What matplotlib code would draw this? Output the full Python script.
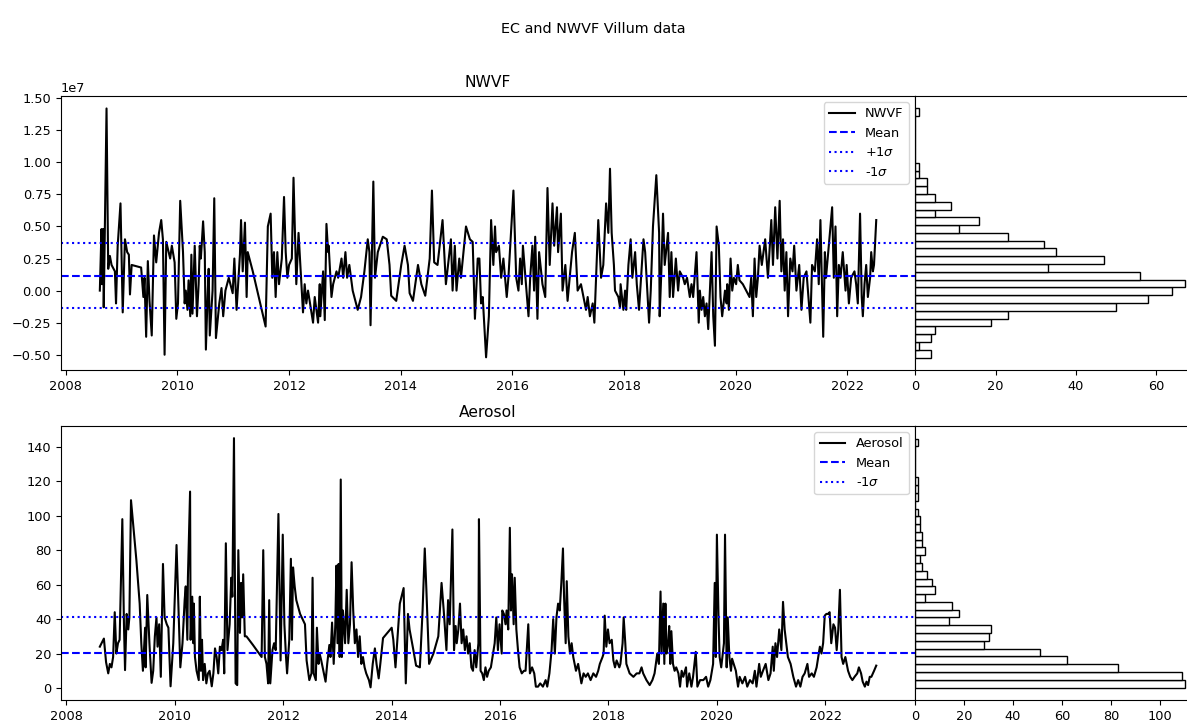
import numpy as np
import matplotlib
matplotlib.use("Agg")
import matplotlib.pyplot as plt
from matplotlib.ticker import MultipleLocator, FormatStrFormatter

plt.rcParams['font.size'] = 9.3

# NWVF time series (decimal year, value in units of 1e7)
nwvf_years = [
    2008.61, 2008.64, 2008.65, 2008.67, 2008.68, 2008.73, 2008.76, 2008.79, 2008.82, 2008.88,
    2008.90, 2008.93, 2008.98, 2009.02, 2009.06, 2009.10, 2009.13, 2009.15, 2009.18, 2009.35,
    2009.39, 2009.41, 2009.44, 2009.47, 2009.50, 2009.54, 2009.58, 2009.62, 2009.67, 2009.71,
    2009.74, 2009.77, 2009.80, 2009.87, 2009.90, 2009.95, 2009.98, 2010.01, 2010.05, 2010.10,
    2010.13, 2010.15, 2010.18, 2010.20, 2010.23, 2010.25, 2010.27, 2010.31, 2010.35, 2010.38,
    2010.40, 2010.42, 2010.46, 2010.49, 2010.51, 2010.54, 2010.56, 2010.58, 2010.63, 2010.66,
    2010.69, 2010.75, 2010.79, 2010.82, 2010.86, 2010.92, 2010.99, 2011.02, 2011.06, 2011.12,
    2011.14, 2011.17, 2011.21, 2011.24, 2011.26, 2011.35, 2011.58, 2011.62, 2011.67, 2011.70,
    2011.73, 2011.76, 2011.79, 2011.82, 2011.87, 2011.91, 2011.94, 2011.97, 2012.00, 2012.05,
    2012.08, 2012.13, 2012.17,
    2012.25, 2012.28, 2012.31, 2012.34, 2012.43, 2012.46, 2012.52, 2012.55, 2012.56, 2012.61,
    2012.64, 2012.67, 2012.70, 2012.71, 2012.76, 2012.79, 2012.85, 2012.88, 2012.94, 2012.97,
    2013.01, 2013.04, 2013.08, 2013.14, 2013.20, 2013.23, 2013.29, 2013.35, 2013.41, 2013.44,
    2013.46, 2013.51, 2013.54, 2013.59, 2013.68, 2013.75, 2013.80, 2013.83, 2013.92, 2014.01,
    2014.07, 2014.13, 2014.16, 2014.22, 2014.31, 2014.37, 2014.44, 2014.52, 2014.56, 2014.60,
    2014.66, 2014.75, 2014.81, 2014.90, 2014.93, 2014.97, 2015.00, 2015.05, 2015.08, 2015.17,
    2015.24, 2015.29, 2015.33, 2015.38, 2015.41, 2015.44, 2015.47, 2015.53, 2015.58, 2015.62,
    2015.66, 2015.69, 2015.71, 2015.76, 2015.80, 2015.84, 2015.90, 2015.93, 2016.02, 2016.07,
    2016.11, 2016.14, 2016.17, 2016.19, 2016.29, 2016.32, 2016.36, 2016.39, 2016.41, 2016.45,
    2016.48, 2016.54, 2016.59, 2016.63, 2016.67, 2016.72, 2016.75, 2016.80, 2016.82, 2016.87,
    2016.90, 2016.95, 2016.99, 2017.07, 2017.12, 2017.17, 2017.23, 2017.32, 2017.35, 2017.39,
    2017.44, 2017.47, 2017.54, 2017.59, 2017.63, 2017.68, 2017.72, 2017.75, 2017.78, 2017.82,
    2017.84, 2017.90, 2017.93, 2017.94, 2017.99, 2018.02, 2018.04, 2018.08, 2018.12, 2018.15,
    2018.20, 2018.23, 2018.27, 2018.35, 2018.38, 2018.45, 2018.48, 2018.52, 2018.58, 2018.63,
    2018.64, 2018.67, 2018.70, 2018.73, 2018.79, 2018.82, 2018.85, 2018.88, 2018.93, 2018.97,
    2019.00, 2019.06, 2019.09, 2019.13, 2019.18, 2019.21, 2019.24, 2019.30, 2019.34, 2019.36,
    2019.39, 2019.42, 2019.45, 2019.48, 2019.51, 2019.57, 2019.60, 2019.63, 2019.66, 2019.70,
    2019.73, 2019.76, 2019.81, 2019.84, 2019.85, 2019.88, 2019.91, 2019.94, 2019.97, 2020.01,
    2020.04, 2020.07, 2020.13, 2020.19, 2020.25, 2020.28, 2020.31, 2020.34, 2020.37, 2020.40,
    2020.43, 2020.47, 2020.53, 2020.58, 2020.64, 2020.67, 2020.71, 2020.75, 2020.79, 2020.82,
    2020.85, 2020.88, 2020.91, 2020.94, 2020.98, 2021.02, 2021.05, 2021.09, 2021.14, 2021.18,
    2021.22, 2021.27, 2021.34, 2021.37, 2021.42, 2021.46, 2021.49, 2021.52, 2021.57, 2021.60,
    2021.62, 2021.65, 2021.68, 2021.73, 2021.76, 2021.79, 2021.82, 2021.85, 2021.88, 2021.92,
    2021.97, 2021.99, 2022.03, 2022.07, 2022.13, 2022.16, 2022.19, 2022.23, 2022.26, 2022.28,
    2022.31, 2022.34, 2022.37, 2022.41, 2022.43, 2022.46, 2022.48, 2022.52,
]
nwvf_vals = [
    0.00, 0.48, 0.05, 0.48, -0.13, 1.42, 0.17, 0.27, 0.20, 0.15,
    -0.10, 0.35, 0.68, -0.17, 0.40, 0.30, 0.28, -0.03, 0.20, 0.18,
    -0.05, 0.10, -0.36, 0.23, -0.08, -0.35, 0.43, 0.22, 0.45, 0.55,
    0.40, -0.50, 0.38, 0.25, 0.35, 0.22, -0.22, -0.10, 0.70, 0.30,
    -0.10, 0.00, -0.15, 0.08, -0.20, 0.28, -0.18, 0.35, -0.20, 0.05,
    0.35, 0.25, 0.54, 0.30, -0.46, -0.05, 0.17, -0.35, 0.00, 0.72,
    -0.37, -0.10, 0.02, -0.20, 0.00, 0.10, -0.02, 0.25, -0.15, 0.28,
    0.55, 0.15, 0.53, -0.05, 0.30, 0.15, -0.28, 0.50, 0.60, 0.10,
    0.30, -0.05, 0.30, 0.05, 0.25, 0.73, 0.30, 0.10, 0.20, 0.25,
    0.88, 0.05, 0.45,
    -0.17, 0.05, -0.10, 0.00, -0.25, -0.05, -0.25, 0.05, -0.20, 0.15,
    -0.23, 0.52, 0.30, 0.35, -0.05, 0.05, 0.15, 0.10, 0.25, 0.10,
    0.30, 0.10, 0.20, 0.00, -0.10, -0.15, -0.05, 0.15, 0.40, 0.30,
    -0.27, 0.85, 0.10, 0.30, 0.42, 0.40, 0.20, -0.04, -0.08, 0.20,
    0.35, 0.20, -0.02, -0.08, 0.20, 0.05, -0.04, 0.25, 0.78, 0.22,
    0.20, 0.55, 0.05, 0.40, 0.00, 0.35, 0.00, 0.25, 0.10, 0.50,
    0.40, 0.38, -0.22, 0.25, 0.25, -0.10, -0.05, -0.52, -0.20, 0.55,
    0.20, 0.50, 0.30, 0.35, 0.10, 0.25, -0.05, 0.10, 0.78, 0.10,
    0.00, 0.25, 0.05, 0.35, -0.20, 0.10, 0.35, 0.00, 0.42, -0.22,
    0.30, 0.05, -0.05, 0.80, 0.20, 0.68, 0.35, 0.65, 0.30, 0.60,
    0.00, 0.20, -0.08, 0.30, 0.45, 0.00, 0.05, -0.15, -0.05, -0.20,
    -0.10, -0.25, 0.55, 0.10, 0.20, 0.68, 0.45, 0.95, 0.45, 0.20,
    0.00, -0.05, -0.13, 0.05, -0.15, 0.00, -0.15, 0.20, 0.40, 0.10,
    0.30, 0.05, -0.15, 0.40, 0.30, -0.25, 0.00, 0.50, 0.90, 0.45,
    -0.20, 0.15, 0.60, 0.20, 0.45, -0.05, 0.30, -0.05, 0.25, 0.00,
    0.15, 0.10, 0.05, 0.10, -0.05, 0.05, -0.05, 0.30, -0.25, 0.00,
    -0.15, -0.05, -0.20, -0.10, -0.30, 0.30, -0.20, -0.43, 0.50, 0.35,
    -0.05, -0.20, 0.00, -0.10, 0.05, -0.15, 0.25, 0.00, 0.10, 0.05,
    0.20, 0.08, 0.05, 0.00, -0.05, 0.10, -0.20, 0.25, -0.05, 0.10,
    0.35, 0.20, 0.40, 0.10, 0.55, 0.20, 0.65, 0.25, 0.70, 0.15,
    0.40, 0.00, 0.30, -0.20, 0.25, 0.15, 0.35, 0.00, 0.20, -0.15,
    0.10, 0.15, -0.25, 0.20, 0.15, 0.40, 0.05, 0.55, -0.36, 0.30,
    0.10, 0.25, 0.40, 0.65, 0.10, 0.50, -0.20, 0.20, 0.10, 0.30,
    0.00, 0.20, -0.10, 0.10, 0.15, 0.05, -0.10, 0.60, -0.05, -0.20,
    0.05, 0.20, -0.05, 0.10, 0.30, 0.15, 0.20, 0.55,
]

# Aerosol time series (decimal year, value)
aerosol_years = [
    2008.615, 2008.69, 2008.73, 2008.77, 2008.80, 2008.83, 2008.86, 2008.89, 2008.92, 2008.95,
    2008.98, 2009.03, 2009.06, 2009.08, 2009.11, 2009.14, 2009.16, 2009.19, 2009.23, 2009.29,
    2009.35, 2009.38, 2009.41, 2009.45, 2009.46, 2009.49, 2009.53, 2009.57, 2009.60, 2009.63,
    2009.66, 2009.68, 2009.71, 2009.74, 2009.78, 2009.81, 2009.85, 2009.88, 2009.92, 2009.97,
    2010.03, 2010.06, 2010.10, 2010.14, 2010.18, 2010.20, 2010.23, 2010.24, 2010.28, 2010.29,
    2010.32, 2010.34, 2010.35, 2010.37, 2010.40, 2010.44, 2010.46, 2010.48, 2010.50, 2010.52,
    2010.55, 2010.58, 2010.61, 2010.64, 2010.68, 2010.71, 2010.74, 2010.77, 2010.80, 2010.83,
    2010.86, 2010.89, 2010.91, 2010.94, 2010.97, 2011.01, 2011.04, 2011.06, 2011.09, 2011.12,
    2011.15, 2011.17, 2011.20, 2011.22, 2011.24, 2011.26, 2011.29, 2011.32, 2011.44, 2011.60,
    2011.63, 2011.66, 2011.69, 2011.72, 2011.74, 2011.76, 2011.80, 2011.83, 2011.86, 2011.91,
    2011.94, 2011.95, 2011.99, 2012.02, 2012.05, 2012.07, 2012.11, 2012.14, 2012.16, 2012.18,
    2012.21, 2012.24,
    2012.31, 2012.40, 2012.43, 2012.48, 2012.52, 2012.54, 2012.56, 2012.60, 2012.62, 2012.65,
    2012.67, 2012.70, 2012.75, 2012.78, 2012.81, 2012.85, 2012.87, 2012.90, 2012.93, 2012.96,
    2012.98, 2013.00, 2013.02, 2013.04, 2013.06, 2013.08, 2013.10, 2013.14, 2013.17, 2013.20,
    2013.23, 2013.26, 2013.29, 2013.32, 2013.35, 2013.38, 2013.41, 2013.44, 2013.47, 2013.50,
    2013.53, 2013.58, 2013.61, 2013.65, 2013.69, 2013.72, 2013.76, 2013.79, 2013.84, 2013.92,
    2014.00, 2014.03, 2014.07, 2014.10, 2014.15, 2014.22, 2014.26, 2014.30, 2014.33, 2014.40,
    2014.45, 2014.52, 2014.57, 2014.61, 2014.64, 2014.69, 2014.77, 2014.86, 2014.92, 2014.96,
    2015.01, 2015.04, 2015.07, 2015.12, 2015.15, 2015.18, 2015.20, 2015.23, 2015.26, 2015.29,
    2015.32, 2015.35, 2015.38, 2015.41, 2015.44, 2015.47, 2015.50, 2015.53, 2015.56, 2015.60,
    2015.61, 2015.64, 2015.67, 2015.70, 2015.73, 2015.76, 2015.79, 2015.83, 2015.86, 2015.90,
    2015.93, 2015.96, 2015.99, 2016.03, 2016.04, 2016.07, 2016.10, 2016.12, 2016.15, 2016.18,
    2016.20, 2016.22, 2016.25, 2016.27, 2016.30, 2016.33, 2016.36, 2016.40, 2016.44, 2016.47,
    2016.52, 2016.55, 2016.59, 2016.63, 2016.66, 2016.70, 2016.74, 2016.79, 2016.84, 2016.87,
    2016.91, 2016.95, 2016.98, 2017.01, 2017.04, 2017.07, 2017.10, 2017.13, 2017.16, 2017.18,
    2017.21, 2017.23, 2017.26, 2017.29, 2017.32, 2017.35, 2017.40, 2017.44, 2017.47, 2017.50,
    2017.54, 2017.58, 2017.62, 2017.67, 2017.72, 2017.77, 2017.81, 2017.84, 2017.89, 2017.91,
    2017.93, 2017.96, 2017.99, 2018.02, 2018.06, 2018.09, 2018.12, 2018.15, 2018.20,
    2018.22, 2018.26, 2018.28, 2018.31, 2018.33, 2018.39, 2018.46, 2018.52, 2018.57, 2018.61,
    2018.64, 2018.70, 2018.76, 2018.81, 2018.85, 2018.90, 2018.93, 2018.96, 2018.98, 2019.01,
    2019.03, 2019.05, 2019.07, 2019.10, 2019.12, 2019.14, 2019.16, 2019.19, 2019.22, 2019.25,
    2019.29, 2019.32, 2019.35, 2019.38, 2019.43, 2019.45, 2019.49, 2019.53, 2019.56, 2019.61,
    2019.64, 2019.69, 2019.75, 2019.80, 2019.84, 2019.88, 2019.93, 2019.96, 2019.98, 2020.00,
    2020.03, 2020.05, 2020.08, 2020.13, 2020.15, 2020.18, 2020.20, 2020.23, 2020.26, 2020.28,
    2020.31, 2020.35, 2020.39, 2020.42, 2020.47, 2020.52, 2020.56, 2020.61, 2020.66, 2020.70,
    2020.73, 2020.78, 2020.81, 2020.85, 2020.90, 2020.95, 2020.99, 2021.03, 2021.05, 2021.08,
    2021.11, 2021.15, 2021.19, 2021.22, 2021.25, 2021.28, 2021.31, 2021.36, 2021.41, 2021.46,
    2021.50, 2021.54, 2021.58, 2021.62, 2021.67, 2021.70, 2021.75, 2021.79, 2021.84, 2021.87,
    2021.90, 2021.93, 2021.96, 2021.99, 2022.02, 2022.05, 2022.08, 2022.11, 2022.15, 2022.18,
    2022.21, 2022.24, 2022.27, 2022.30, 2022.33, 2022.37, 2022.42, 2022.46, 2022.50, 2022.54,
    2022.59, 2022.62, 2022.66, 2022.69, 2022.73, 2022.76, 2022.79, 2022.82, 2022.85, 2022.90,
    2022.94,
]
aerosol_vals = [
    24, 28.7, 15, 8.5, 14, 12, 18, 44, 20, 26,
    28, 98, 37, 10.4, 43, 34, 41, 109, 95, 74,
    49, 26, 10, 35, 12, 54, 26, 3, 10, 30,
    41, 24, 37, 6.5, 72, 41, 37, 35, 1, 26,
    83, 53, 12, 26, 51, 59, 28, 64, 114, 28,
    53, 26, 49, 18, 10, 4.6, 53, 10, 28, 4.6,
    14, 2.7, 8.5, 10, 1, 8.5, 23, 18, 8.5, 24,
    22, 28, 8.5, 84, 22, 37, 64, 53, 145, 2.7,
    1.7, 80, 32, 61, 41, 66, 30, 30, 25, 18,
    80, 18, 14, 2.7, 51, 2.7, 22, 26, 22, 101,
    34, 16, 89, 37, 18, 8.5, 28, 75, 28, 70,
    59, 51,
    43, 37, 16, 4.6, 8.5, 64, 8.5, 4.6, 35, 14,
    20, 16, 8.5, 3.7, 14, 25, 18, 38, 14, 37,
    71, 26, 72, 18, 121, 18, 45, 26, 57, 26,
    37, 73, 45, 26, 34, 18, 30, 14, 18, 12,
    8.5, 4.6, 0.4, 14, 23, 14, 5.6, 14, 29, 32,
    35, 28, 12, 26, 49, 58, 2.7, 43, 34, 22,
    13, 12, 45, 81, 57, 14, 20, 30, 61, 45,
    22, 51, 37, 92, 22, 36, 26, 34, 49, 26,
    34, 22, 30, 20, 26, 12, 10, 22, 12, 26,
    98, 10, 8.5, 4.6, 12, 6.5, 10, 12, 18, 26,
    41, 22, 37, 20, 45, 43, 37, 45, 34, 93,
    45, 66, 37, 64, 34, 22, 12, 8.5, 10, 10,
    37, 8.5, 12, 8.5, 0.8, 0.8, 2.7, 0.8, 4.6, 0.8,
    8.5, 22, 40, 20, 41, 49, 45, 61, 81, 53,
    26, 62, 30, 20, 26, 18, 10, 14, 8.5, 2.7,
    8.5, 6.5, 8.5, 4.6, 8.5, 6.5, 10, 14, 18, 20,
    42, 24, 34, 26, 28, 16, 12, 16, 12,
    14, 26, 41, 26, 14, 8.5, 6.5, 8.5, 8.5, 12,
    8.5, 4.6, 1.7, 4.6, 8.5, 20, 14, 56, 20, 49,
    14, 49, 20, 26, 36, 14, 33, 14, 10, 12,
    8.5, 0.8, 10, 6.5, 12, 0.8, 8.5, 0.8, 6.5, 21,
    0.8, 4.6, 4.6, 6.5, 0.8, 4.6, 14, 61, 18, 89,
    41, 18, 12, 26, 89, 12, 41, 18, 10, 17,
    14, 10, 0.8, 6.5, 2.7, 6.5, 0.8, 4.6, 2.7, 10,
    0.8, 14, 6.5, 10, 14, 4.6, 8.5, 24, 10, 26,
    18, 34, 22, 50, 34, 26, 18, 14, 6.5, 0.8,
    4.6, 0.8, 6.5, 8.5, 14, 6.5, 8.5, 6.5, 12, 18,
    24, 20, 26, 42, 43, 43, 44, 26, 37, 35,
    22, 34, 57, 18, 14, 18, 10, 6.5, 4.6, 6.5,
    8.5, 12, 8.5, 3.7, 0.8, 3.7, 1.7, 6.5, 6.5, 10,
    13,
]

# reference lines
nwvf_mean = 0.117e7
nwvf_plus = 0.371e7
nwvf_minus = -0.135e7
aerosol_mean = 20.4
aerosol_line = 41.2

# histogram counts, lowest bin first (32 bins each)
nwvf_range = (-0.522e7, 1.422e7)
nwvf_counts = [4, 1, 4, 5, 19, 23, 50, 58, 64, 67,
               56, 33, 47, 35, 32, 23, 11, 16, 5, 9,
               5, 3, 3, 1, 1, 0, 0, 0, 0, 0,
               0, 1]
aerosol_range = (0.3, 144.8)
aerosol_counts = [110, 109, 83, 62, 51, 28, 30, 31, 14, 18,
                  15, 4, 8, 7, 5, 3, 2, 4, 3, 3,
                  2, 2, 1, 0, 1, 1, 1, 0, 0, 0,
                  0, 1]

fig = plt.figure(figsize=(11.87, 7.22), dpi=100)
fig.suptitle("EC and NWVF Villum data", y=0.97, fontsize=10.4)

left, main_w, hist_l, hist_w = 0.0514, 0.7195, 0.7709, 0.2384
panels = [
    (0.4875, "NWVF", nwvf_years, [v * 1e7 for v in nwvf_vals], nwvf_range, nwvf_counts,
     [(nwvf_mean, '--', 'Mean'), (nwvf_plus, ':', '+1$\\sigma$'), (nwvf_minus, ':', '-1$\\sigma$')]),
    (0.0305, "Aerosol", aerosol_years, aerosol_vals, aerosol_range, aerosol_counts,
     [(aerosol_mean, '--', 'Mean'), (aerosol_line, ':', '-1$\\sigma$')]),
]

for bottom, name, xs, ys, rng, counts, lines in panels:
    ax = fig.add_axes([left, bottom, main_w, 0.3799])
    axh = fig.add_axes([hist_l, bottom, hist_w, 0.3799], sharey=ax)

    ax.plot(xs, ys, color='black', lw=1.5, label=name)
    for val, ls, lab in lines:
        ax.axhline(val, color='blue', ls=ls, lw=1.5, label=lab)
    ax.set_title(name)
    ax.legend(loc='upper right')
    ax.xaxis.set_major_locator(MultipleLocator(2))
    ax.xaxis.set_major_formatter(FormatStrFormatter('%d'))

    edges = np.linspace(rng[0], rng[1], len(counts) + 1)
    axh.barh(edges[:-1], counts, height=edges[1] - edges[0], align='edge',
             color='white', edgecolor='black', lw=1)
    axh.tick_params(left=False, labelleft=False)

fig.savefig("out.png", dpi=100)
